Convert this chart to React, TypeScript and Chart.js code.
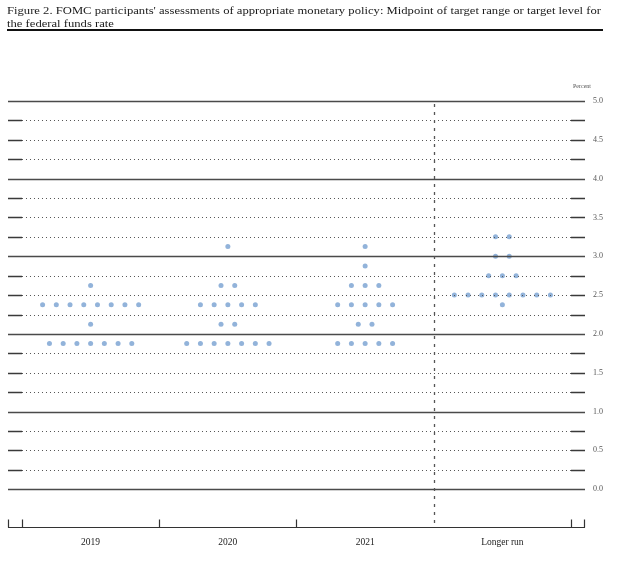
import React, { useEffect, useRef } from 'react';
import { Chart, registerables } from 'chart.js';

Chart.register(...registerables);

const titleLines = [
  "Figure 2. FOMC participants' assessments of appropriate monetary policy: Midpoint of target range or target level for",
  'the federal funds rate',
];
const categories = ['2019', '2020', '2021', 'Longer run'];
const rates2019 = [2.625, 2.375, 2.125, 1.875];
const counts2019 = [1, 8, 1, 7];
const rates2020 = [3.125, 2.625, 2.375, 2.125, 1.875];
const counts2020 = [1, 2, 5, 2, 7];
const rates2021 = [3.125, 2.875, 2.625, 2.375, 2.125, 1.875];
const counts2021 = [1, 1, 3, 5, 2, 5];
const ratesLonger = [3.25, 3.0, 2.75, 2.5, 2.375];
const countsLonger = [2, 2, 3, 8, 1];
const yTickValues = [0, 0.5, 1, 1.5, 2, 2.5, 3, 3.5, 4, 4.5, 5];
const yTickLabels = ['0.0', '0.5', '1.0', '1.5', '2.0', '2.5', '3.0', '3.5', '4.0', '4.5', '5.0'];
const gridValues = [0, 0.25, 0.5, 0.75, 1, 1.25, 1.5, 1.75, 2, 2.25, 2.5, 2.75, 3, 3.25, 3.5, 3.75, 4, 4.25, 4.5, 4.75, 5];
const unitLabel = 'Percent';

const columns = [
  { rates: rates2019, counts: counts2019 },
  { rates: rates2020, counts: counts2020 },
  { rates: rates2021, counts: counts2021 },
  { rates: ratesLonger, counts: countsLonger },
];

const DOT_GAP = 0.1;

function buildPoints() {
  const pts: { x: number; y: number }[] = [];
  columns.forEach((col, c) => {
    col.rates.forEach((r, j) => {
      const n = col.counts[j];
      for (let k = 0; k < n; k++) {
        pts.push({ x: c + 0.5 + (k - (n - 1) / 2) * DOT_GAP, y: r });
      }
    });
  });
  return pts;
}

const serif = '"Liberation Serif", "DejaVu Serif", serif';

function stretchText(ctx: CanvasRenderingContext2D, text: string, x: number, y: number, sx: number) {
  ctx.save();
  ctx.translate(x, y);
  ctx.scale(sx, 1);
  ctx.fillText(text, 0, 0);
  ctx.restore();
}

const decorPlugin = {
  id: 'decor',
  afterDatasetsDraw(chart: any) {
    const ctx = chart.ctx as CanvasRenderingContext2D;
    const xs = chart.scales.x;
    const ys = chart.scales.y;
    const area = chart.chartArea;
    const x0 = xs.getPixelForValue(0);
    const x4 = xs.getPixelForValue(categories.length);
    ctx.save();
    // horizontal grid
    gridValues.forEach((v) => {
      const y = Math.round(ys.getPixelForValue(v)) + 0.5;
      if (Number.isInteger(v)) {
        ctx.strokeStyle = '#4a4a4a';
        ctx.lineWidth = 1.3;
        ctx.setLineDash([]);
        ctx.beginPath();
        ctx.moveTo(area.left, y);
        ctx.lineTo(area.right, y);
        ctx.stroke();
      } else {
        ctx.strokeStyle = '#3a3a3a';
        ctx.lineWidth = 1.3;
        ctx.setLineDash([]);
        ctx.beginPath();
        ctx.moveTo(area.left, y);
        ctx.lineTo(x0, y);
        ctx.moveTo(x4, y);
        ctx.lineTo(area.right, y);
        ctx.stroke();
        ctx.strokeStyle = '#555';
        ctx.lineWidth = 1;
        ctx.setLineDash([1, 3]);
        ctx.beginPath();
        ctx.moveTo(x0, y);
        ctx.lineTo(x4, y);
        ctx.stroke();
      }
    });
    // vertical dashed separator
    const xd = Math.round(xs.getPixelForValue(3)) + 0.5;
    ctx.strokeStyle = '#555';
    ctx.lineWidth = 1.3;
    ctx.setLineDash([3, 5]);
    ctx.beginPath();
    ctx.moveTo(xd, ys.getPixelForValue(5) + 3);
    ctx.lineTo(xd, area.bottom);
    ctx.stroke();
    ctx.setLineDash([]);
    // bottom axis
    const yb = Math.round(area.bottom) - 0.5;
    ctx.strokeStyle = '#333';
    ctx.lineWidth = 1.2;
    ctx.beginPath();
    ctx.moveTo(area.left, yb);
    ctx.lineTo(area.right, yb);
    [area.left + 0.5, area.right - 0.5].forEach((tx) => {
      ctx.moveTo(tx, yb);
      ctx.lineTo(tx, yb - 8);
    });
    [0, 1, 2, 4].forEach((v) => {
      const tx = Math.round(xs.getPixelForValue(v)) + 0.5;
      ctx.moveTo(tx, yb);
      ctx.lineTo(tx, yb - 8);
    });
    ctx.stroke();
    // y labels
    ctx.fillStyle = '#555';
    ctx.font = '8px ' + serif;
    ctx.textAlign = 'left';
    ctx.textBaseline = 'middle';
    yTickValues.forEach((v, i) => {
      ctx.fillText(yTickLabels[i], area.right + 8, ys.getPixelForValue(v));
    });
    ctx.font = '6px ' + serif;
    ctx.fillText(unitLabel, area.right - 12, ys.getPixelForValue(5) - 15);
    // category labels
    ctx.fillStyle = '#222';
    ctx.font = '9.5px ' + serif;
    ctx.textAlign = 'center';
    categories.forEach((c, i) => {
      ctx.fillText(c, xs.getPixelForValue(i + 0.5), area.bottom + 14);
    });
    // title
    ctx.fillStyle = '#1a1a1a';
    ctx.font = '11px ' + serif;
    ctx.textAlign = 'left';
    ctx.textBaseline = 'alphabetic';
    const w = ctx.measureText(titleLines[0]).width;
    const sx = 594 / w;
    stretchText(ctx, titleLines[0], 7, 14, sx);
    stretchText(ctx, titleLines[1], 7, 27, sx);
    ctx.fillStyle = '#111';
    ctx.fillRect(7, 29, 596, 2);
    ctx.restore();
  },
};

export default function App() {
  const ref = useRef<HTMLCanvasElement | null>(null);
  useEffect(() => {
    if (!ref.current) return;
    const chart = new Chart(ref.current, {
      type: 'scatter',
      data: {
        datasets: [
          {
            data: buildPoints(),
            backgroundColor: '#92b3da',
            borderWidth: 0,
            pointRadius: 2.5,
            pointHoverRadius: 2.5,
          },
        ],
      },
      options: {
        animation: false,
        responsive: false,
        events: [],
        layout: { padding: { left: 8, right: 55, top: 101, bottom: 41 } },
        plugins: { legend: { display: false }, tooltip: { enabled: false }, title: { display: false } },
        scales: {
          x: { type: 'linear', min: -0.102, max: 4.102, display: false },
          y: { type: 'linear', min: -0.5, max: 5, display: false },
        },
      },
      plugins: [decorPlugin],
    });
    return () => chart.destroy();
  }, []);
  return (
    <div style={{ position: 'fixed', left: 0, top: 0, width: 640, height: 569, background: '#fff' }}>
      <canvas ref={ref} width={640} height={569} style={{ display: 'block', width: 640, height: 569 }} />
    </div>
  );
}
